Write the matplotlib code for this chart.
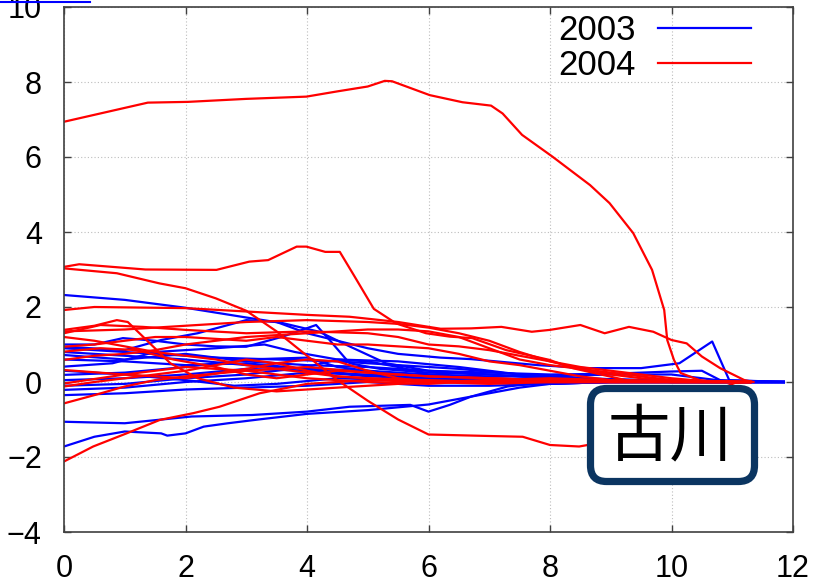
import matplotlib
matplotlib.use("Agg")
import matplotlib.pyplot as plt
from matplotlib.patches import FancyBboxPatch
from matplotlib.lines import Line2D

plt.rcParams['font.family'] = ['Liberation Sans', 'Noto Sans CJK JP', 'DejaVu Sans']

# Axis range and ticks
x_ticks = [0, 2, 4, 6, 8, 10, 12]
y_ticks = [-4, -2, 0, 2, 4, 6, 8, 10]
series_labels = ["2003", "2004"]
station_name = "古川"

# 2003 runs: (x, y) pairs per curve
runs_2003 = [
    ([0, 1, 2, 3, 3.6, 4.2, 4.7, 5.3, 6, 7, 8, 9, 10, 11.85],
     [2.32, 2.19, 1.98, 1.72, 1.57, 1.34, 0.95, 0.5, 0.3, 0.2, 0.1, 0.05, 0, 0]),
    ([0, 0.5, 0.97, 1.5, 2, 2.5, 3, 3.6, 4.15, 4.35, 4.7, 5.2, 6, 7, 8, 9, 10, 11.85],
     [1.0, 1.0, 1.17, 1.1, 1.0, 0.95, 0.94, 1.21, 1.52, 1.16, 0.5, 0.35, 0.25, 0.2, 0.1, 0.05, 0, 0]),
    ([0, 1, 1.6, 2.2, 3.0, 3.5, 4, 5, 5.5, 6.2, 6.7, 7.8, 8.6, 9.5, 10.13, 10.67, 10.95, 11.85],
     [0.94, 0.85, 1.12, 1.3, 1.65, 1.6, 1.3, 0.9, 0.75, 0.65, 0.61, 0.45, 0.37, 0.37, 0.5, 1.08, 0.05, 0]),
    ([0, 1, 2, 3, 4, 5, 6, 7, 8, 9, 10, 10.5, 10.8, 11.85],
     [0.72, 0.6, 0.75, 0.55, 0.45, 0.4, 0.3, 0.25, 0.2, 0.22, 0.28, 0.3, 0.05, 0]),
    ([0, 0.8, 1.5, 2.5, 3.3, 3.8, 4.5, 5.5, 6.5, 7.5, 8.5, 9.5, 10.5, 11.85],
     [0.41, 0.5, 0.8, 0.9, 1.0, 0.8, 0.6, 0.55, 0.4, 0.2, 0.1, 0.05, 0, 0]),
    ([0, 1, 2, 3, 4, 4.5, 5, 6, 7, 8, 11.85],
     [0.19, 0.25, 0.4, 0.6, 0.65, 0.4, 0.3, 0.1, 0.05, 0, 0]),
    ([0, 1, 2, 3, 4, 5, 6, 7, 8, 9, 11.85],
     [0.05, 0.1, 0.2, 0.35, 0.3, 0.15, 0.15, 0.1, 0.05, 0, 0]),
    ([0, 1, 2, 3, 4, 5, 6, 7, 8, 9, 11.85],
     [-0.21, -0.15, 0.0, 0.1, 0.25, 0.2, 0.1, 0.0, -0.05, 0, 0]),
    ([0, 1, 2, 3, 4, 5, 6, 7, 8, 9, 11.85],
     [-0.35, -0.3, -0.2, -0.15, -0.1, 0.0, -0.1, -0.1, -0.05, 0, 0]),
    ([0, 1, 2.1, 3.1, 4, 4.7, 5.7, 6, 6.35, 6.7, 7.3, 7.8, 9, 11.85],
     [-1.06, -1.1, -0.92, -0.88, -0.79, -0.66, -0.61, -0.79, -0.61, -0.39, -0.12, -0.03, 0, 0]),
    ([0, 0.5, 1, 1.6, 1.7, 2.0, 2.3, 2.7, 3.2, 4, 5, 6, 6.5, 7, 7.5, 8, 9, 11.85],
     [-1.72, -1.46, -1.32, -1.37, -1.43, -1.37, -1.19, -1.1, -1.0, -0.85, -0.75, -0.6, -0.45, -0.3, -0.15, -0.05, 0, 0]),
    ([0, 0.5, 1.5, 2.5, 3.5, 4.5, 5.5, 6.5, 7.5, 8.5, 9.5, 10.5, 11.85],
     [0.9, 0.85, 0.75, 0.65, 0.6, 0.55, 0.45, 0.35, 0.2, 0.1, 0.05, 0, 0]),
    ([0, 1, 2, 3, 4, 4.8, 5.5, 6.5, 7.5, 11.85],
     [0.6, 0.55, 0.45, 0.5, 0.35, 0.2, 0.1, 0.05, 0, 0]),
    ([0, 1, 2, 2.8, 3.5, 4.5, 5.5, 6.5, 11.85],
     [0.3, 0.2, 0.05, -0.1, -0.05, 0.1, 0.05, 0, 0]),
    ([0, 1, 2, 3, 4, 4.5, 5, 5.5, 6, 7, 8, 11.85],
     [-0.1, -0.05, 0.1, 0.2, 0.4, 0.6, 0.55, 0.4, 0.2, 0.05, 0, 0]),
    ([0, 1, 2, 3, 4, 5, 6, 7, 8, 9, 10, 10.5, 11, 11.85],
     [0.8, 0.7, 0.6, 0.45, 0.35, 0.3, 0.2, 0.15, 0.15, 0.2, 0.2, 0.1, 0, 0]),
]

# 2004 runs: (x, y) pairs per curve
runs_2004 = [
    ([0, 1.38, 2.04, 3.0, 3.99, 4.5, 5.0, 5.28, 5.4, 6.02, 6.56, 7.03, 7.22, 7.54, 8.04, 8.66, 8.98,
      9.37, 9.68, 9.88, 9.93, 10.04, 10.15, 10.46, 10.67, 11.3],
     [6.94, 7.45, 7.47, 7.55, 7.61, 7.75, 7.88, 8.03, 8.02, 7.65, 7.46, 7.37, 7.16, 6.59, 6.01, 5.25,
      4.77, 3.97, 2.99, 1.92, 1.12, 0.59, 0.24, 0.05, 0.0, 0]),
    ([0, 0.25, 1.34, 2.51, 3.05, 3.36, 3.83, 3.99, 4.3, 4.54, 4.77, 5.1, 5.47, 5.96, 6.35, 6.72,
      7.28, 7.99, 8.37, 9.25, 11.3],
     [3.07, 3.14, 3.0, 2.99, 3.21, 3.25, 3.61, 3.61, 3.47, 3.47, 2.85, 1.95, 1.56, 1.3, 1.21, 1.17,
      0.85, 0.59, 0.37, 0.05, 0]),
    ([0, 0.87, 1.57, 2.0, 2.5, 3.0, 3.5, 4, 4.5, 5, 5.5, 6, 6.5, 7.0, 7.55, 8.0, 8.48, 8.76, 9.25,
      9.82, 10.38, 10.77, 11.05, 11.3],
     [3.03, 2.9, 2.63, 2.5, 2.23, 1.9, 1.35, 0.7, 0.05, -0.5, -1.0, -1.4, -1.42, -1.44, -1.46, -1.68,
      -1.72, -1.64, -1.19, -1.04, -0.67, -0.21, -0.02, 0]),
    ([0, 0.48, 1.03, 1.58, 2.13, 2.56, 3.22, 4, 5, 6, 7, 8, 11.3],
     [-2.12, -1.72, -1.37, -1.01, -0.83, -0.66, -0.3, -0.05, 0.05, 0.0, 0.05, 0.0, 0]),
    ([0, 0.5, 2, 3, 4, 4.7, 5.5, 6.2, 6.7, 7.2, 7.7, 8.0, 8.5, 8.9, 9.3, 9.7, 10.0, 10.25, 10.5,
      10.8, 11.2, 11.35],
     [1.92, 2.0, 1.97, 1.88, 1.79, 1.74, 1.6, 1.42, 1.43, 1.47, 1.34, 1.39, 1.52, 1.3, 1.47, 1.34,
      1.12, 1.03, 0.68, 0.37, 0.05, 0]),
    ([0, 0.5, 0.87, 1.05, 1.3, 1.75, 2.2, 2.8, 3.5, 4.5, 5.5, 6.5, 8, 11.3],
     [1.39, 1.5, 1.65, 1.6, 1.21, 0.5, 0.1, -0.15, -0.25, -0.15, -0.05, 0, 0, 0]),
    ([0, 0.6, 1.3, 2, 3, 4, 5, 5.5, 6, 6.5, 7, 7.5, 8, 8.5, 9, 9.5, 10, 11.3],
     [1.3, 1.52, 1.47, 1.39, 1.3, 1.35, 1.3, 1.2, 1.0, 0.95, 0.85, 0.7, 0.55, 0.35, 0.2, 0.1, 0.05, 0]),
    ([0, 0.5, 1, 1.5, 2, 2.5, 3, 3.5, 4, 4.5, 5, 5.5, 6, 6.5, 7, 7.5, 8, 8.5, 9, 10, 11.3],
     [0.94, 1.0, 1.1, 1.2, 1.2, 1.15, 1.1, 1.2, 1.1, 1.0, 1.0, 0.95, 0.9, 0.75, 0.55, 0.45, 0.3, 0.15,
      0.05, 0, 0]),
    ([0, 0.6, 1.2, 1.8, 2.5, 3, 3.5, 4, 4.5, 5, 6, 7, 8, 9, 11.3],
     [0.81, 0.9, 0.85, 0.6, 0.4, 0.2, 0.1, 0.2, 0.3, 0.25, 0.15, 0.1, 0.05, 0, 0]),
    ([0, 0.5, 1, 1.5, 2, 2.5, 3, 3.5, 4, 4.5, 5, 5.5, 6, 6.5, 7, 7.5, 8, 8.5, 9, 9.5, 10, 10.5, 11.3],
     [0.59, 0.7, 0.75, 0.85, 1.0, 1.1, 1.2, 1.25, 1.3, 1.35, 1.4, 1.4, 1.35, 1.2, 0.9, 0.6, 0.45, 0.35,
      0.25, 0.15, 0.05, 0, 0]),
    ([0, 1, 2, 3, 3.5, 4, 4.5, 5, 5.5, 6, 7, 8, 11.3],
     [0.32, 0.2, 0.1, 0.35, 0.5, 0.6, 0.55, 0.3, 0.1, 0.0, -0.05, 0, 0]),
    ([0, 1, 2, 3, 4, 5, 6, 7, 8, 9, 10, 11.3],
     [-0.04, 0.2, 0.4, 0.3, 0.1, 0.0, -0.05, 0.05, 0.1, 0.05, 0, 0]),
    ([0, 0.5, 1, 1.5, 2, 2.5, 3, 3.5, 4, 4.5, 5, 6, 7, 11.3],
     [-0.12, 0.0, 0.1, 0.2, 0.3, 0.45, 0.6, 0.5, 0.3, 0.15, 0.1, 0.05, 0.0, 0]),
    ([0, 0.5, 1, 1.5, 2, 3, 4, 5, 6, 7, 8, 9, 11.3],
     [-0.57, -0.35, -0.12, 0.05, 0.15, 0.3, 0.4, 0.25, 0.15, 0.1, 0.05, 0, 0]),
    ([0, 0.5, 1, 1.5, 2, 2.5, 3, 3.5, 4, 4.5, 5, 5.5, 6, 7, 11.3],
     [1.2, 1.1, 0.95, 0.8, 0.7, 0.6, 0.45, 0.35, 0.25, 0.15, 0.1, 0.05, 0.0, 0, 0]),
    ([0, 1, 2, 3, 4, 5, 5.5, 6, 6.5, 7, 7.5, 8, 8.5, 9, 9.5, 10, 10.5, 11.3],
     [1.35, 1.4, 1.5, 1.6, 1.65, 1.6, 1.55, 1.45, 1.3, 1.1, 0.8, 0.55, 0.4, 0.3, 0.2, 0.1, 0.03, 0]),
]

colors = {"2003": "#0000ff", "2004": "#ff0000"}

fig = plt.figure(figsize=(8.21, 5.84), dpi=100)
ax = fig.add_axes([64 / 821, 52 / 584, 729 / 821, 525 / 584])

for i, (xs, ys) in enumerate(runs_2003):
    ax.plot(xs, ys, color=colors["2003"], lw=1.6, solid_joinstyle='round',
            label=series_labels[0] if i == 0 else None)
for i, (xs, ys) in enumerate(runs_2004):
    ax.plot(xs, ys, color=colors["2004"], lw=1.6, solid_joinstyle='round',
            label=series_labels[1] if i == 0 else None)

ax.set_xlim(0, 12)
ax.set_ylim(-4, 10)
ax.set_xticks(x_ticks)
ax.set_yticks(y_ticks)
ax.grid(True, color='#bdbdbd', linestyle=(0, (1, 2)), linewidth=0.8)
ax.set_axisbelow(True)
for sp in ax.spines.values():
    sp.set_color('#404040')
    sp.set_linewidth(1.2)
ax.tick_params(direction='in', length=5, width=1, color='#404040',
               top=True, right=True, labelsize=22)
ax.tick_params(axis='x', pad=16)
ax.tick_params(axis='y', pad=16)

leg = ax.legend(loc='upper right', bbox_to_anchor=(0.942, 0.986), frameon=False,
                markerfirst=False, fontsize=25, handlelength=2.68, handletextpad=0.63,
                labelspacing=0.05, borderpad=0.0, borderaxespad=0.0)

# Station label box
box = FancyBboxPatch((5.905, 1.025), 1.64, 0.93,
                     boxstyle="round,pad=0,rounding_size=0.16",
                     transform=fig.dpi_scale_trans, facecolor='white',
                     edgecolor='#0b3561', linewidth=5.2, zorder=5)
fig.add_artist(box)
fig.text(6.70, 1.47, station_name, transform=fig.dpi_scale_trans,
         ha='center', va='center', fontsize=45,
         family=['Noto Sans CJK JP', 'DejaVu Sans'], color='black', zorder=6)

# thin blue rule at the top-left edge
fig.add_artist(Line2D([0, 90 / 821], [1 - 1.5 / 584, 1 - 1.5 / 584],
                      transform=fig.transFigure, color='#0000ff', lw=1.5))

fig.savefig("out.png", dpi=100)
